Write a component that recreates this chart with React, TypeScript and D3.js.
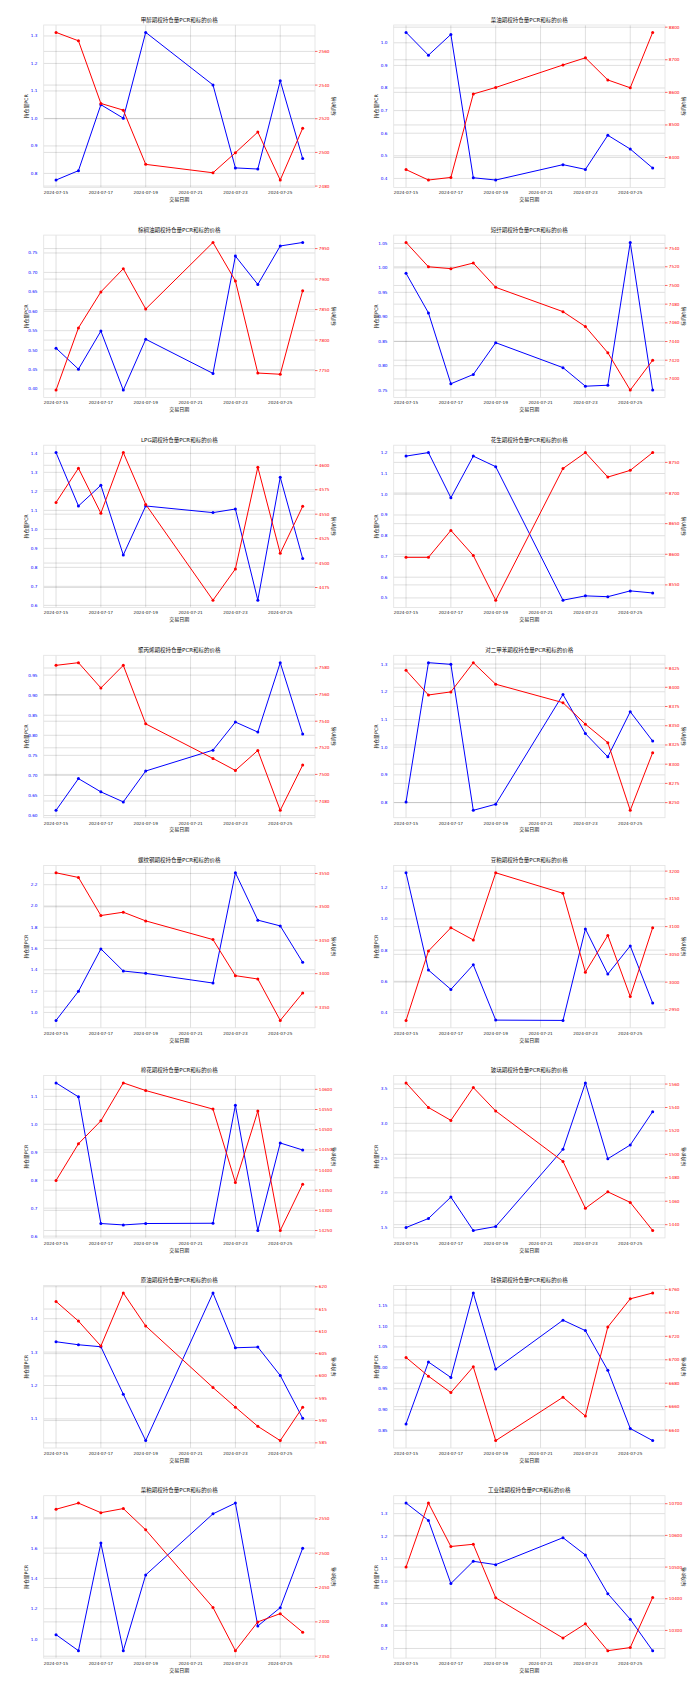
import React from "react";
import * as d3 from "d3";

// ---------- data ----------
const dates = ["2024-07-15", "2024-07-16", "2024-07-17", "2024-07-18", "2024-07-19", "2024-07-22", "2024-07-23", "2024-07-24", "2024-07-25", "2024-07-26"];
const xTickLabels = ["2024-07-15", "2024-07-17", "2024-07-19", "2024-07-21", "2024-07-23", "2024-07-25"];

const names = ["甲醇", "菜油", "棕榈油", "短纤", "LPG", "花生", "聚丙烯", "对二甲苯", "螺纹钢", "豆粕", "棉花", "玻璃", "原油", "硅铁", "菜粕", "工业硅"];

const pcrMA = [0.776, 0.81, 1.05, 1.001, 1.313, 1.122, 0.82, 0.816, 1.137, 0.854];
const priceMA = [2571.3, 2566.3, 2529.1, 2525.1, 2492.9, 2487.9, 2499.8, 2512.1, 2483.6, 2514.3];
const pcrOI = [1.046, 0.945, 1.037, 0.403, 0.393, 0.461, 0.44, 0.591, 0.53, 0.446];
const priceOI = [8363, 8331, 8339, 8595, 8615, 8684, 8706, 8638, 8614, 8784];
const pcrP = [0.505, 0.451, 0.549, 0.397, 0.528, 0.44, 0.742, 0.669, 0.768, 0.777];
const priceP = [7718, 7820, 7879, 7917, 7851, 7960, 7897, 7746, 7744, 7881];
const pcrPF = [0.989, 0.908, 0.763, 0.782, 0.847, 0.796, 0.758, 0.76, 1.052, 0.75];
const pricePF = [7546, 7520, 7518, 7524, 7498, 7472, 7456, 7428, 7388, 7420];
const pcrPG = [1.404, 1.123, 1.232, 0.865, 1.123, 1.088, 1.107, 0.627, 1.274, 0.847];
const pricePG = [4562, 4597, 4551, 4613, 4560, 4462, 4494, 4598, 4510, 4558];
const pcrPK = [1.184, 1.201, 0.983, 1.184, 1.133, 0.489, 0.51, 0.506, 0.534, 0.524];
const pricePK = [8595, 8595, 8639, 8598, 8525, 8740, 8766, 8726, 8737, 8766];
const pcrPP = [0.613, 0.692, 0.659, 0.634, 0.711, 0.763, 0.833, 0.808, 0.981, 0.803];
const pricePP = [7582, 7584, 7565, 7582, 7538, 7512, 7503, 7518, 7473, 7507];
const pcrPX = [0.802, 1.305, 1.299, 0.772, 0.794, 1.19, 1.049, 0.965, 1.128, 1.022];
const pricePX = [8422, 8390, 8394, 8432, 8404, 8380, 8352, 8328, 8240, 8315];
const pcrRB = [0.925, 1.198, 1.597, 1.389, 1.367, 1.276, 2.312, 1.867, 1.813, 1.471];
const priceRB = [3551, 3544, 3487, 3492, 3479, 3451, 3397, 3392, 3330, 3371];
const pcrM = [1.296, 0.672, 0.548, 0.706, 0.351, 0.349, 0.936, 0.646, 0.827, 0.46];
const priceM = [2931, 3056, 3098, 3076, 3197, 3160, 3018, 3084, 2974, 3098];
const pcrCF = [1.148, 1.098, 0.645, 0.64, 0.645, 0.646, 1.068, 0.62, 0.933, 0.908];
const priceCF = [14374, 14465, 14522, 14616, 14597, 14551, 14369, 14546, 14250, 14365];
const pcrFG = [1.5, 1.63, 1.938, 1.457, 1.514, 2.625, 3.582, 2.49, 2.688, 3.168];
const priceFG = [1561, 1540, 1529, 1557, 1537, 1494, 1454, 1468, 1459, 1435];
const pcrSC = [1.331, 1.322, 1.316, 1.174, 1.035, 1.477, 1.313, 1.315, 1.23, 1.102];
const priceSC = [616.7, 612.3, 606.7, 618.6, 611.2, 597.4, 593.0, 588.7, 585.5, 593.0];
const pcrSF = [0.866, 1.014, 0.977, 1.179, 0.997, 1.114, 1.089, 0.994, 0.855, 0.826];
const priceSF = [6702, 6686, 6672, 6694, 6631, 6668, 6652, 6728, 6752, 6757];
const pcrRM = [1.029, 0.923, 1.633, 0.923, 1.423, 1.826, 1.897, 1.086, 1.207, 1.599];
const priceRM = [2564, 2573, 2559, 2565, 2534, 2421, 2358, 2400, 2412, 2385];
const pcrSI = [1.347, 1.27, 0.989, 1.088, 1.073, 1.193, 1.116, 0.944, 0.83, 0.69];
const priceSI = [10500, 10702, 10565, 10572, 10403, 10276, 10321, 10236, 10246, 10404];

// tick labels for each axis
const pcrTicks = [
  [0.8, 0.9, 1.0, 1.1, 1.2, 1.3],
  [0.4, 0.5, 0.6, 0.7, 0.8, 0.9, 1.0],
  [0.4, 0.45, 0.5, 0.55, 0.6, 0.65, 0.7, 0.75],
  [0.75, 0.8, 0.85, 0.9, 0.95, 1.0, 1.05],
  [0.6, 0.7, 0.8, 0.9, 1.0, 1.1, 1.2, 1.3, 1.4],
  [0.5, 0.6, 0.7, 0.8, 0.9, 1.0, 1.1, 1.2],
  [0.6, 0.65, 0.7, 0.75, 0.8, 0.85, 0.9, 0.95],
  [0.8, 0.9, 1.0, 1.1, 1.2, 1.3],
  [1.0, 1.2, 1.4, 1.6, 1.8, 2.0, 2.2],
  [0.4, 0.6, 0.8, 1.0, 1.2],
  [0.6, 0.7, 0.8, 0.9, 1.0, 1.1],
  [1.5, 2.0, 2.5, 3.0, 3.5],
  [1.1, 1.2, 1.3, 1.4],
  [0.85, 0.9, 0.95, 1.0, 1.05, 1.1, 1.15],
  [1.0, 1.2, 1.4, 1.6, 1.8],
  [0.7, 0.8, 0.9, 1.0, 1.1, 1.2, 1.3],
];
const priceTicks = [
  [2480, 2500, 2520, 2540, 2560],
  [8400, 8500, 8600, 8700, 8800],
  [7750, 7800, 7850, 7900, 7950],
  [7400, 7420, 7440, 7460, 7480, 7500, 7520, 7540],
  [4475, 4500, 4525, 4550, 4575, 4600],
  [8550, 8600, 8650, 8700, 8750],
  [7480, 7500, 7520, 7540, 7560, 7580],
  [8250, 8275, 8300, 8325, 8350, 8375, 8400, 8425],
  [3350, 3400, 3450, 3500, 3550],
  [2950, 3000, 3050, 3100, 3150, 3200],
  [14250, 14300, 14350, 14400, 14450, 14500, 14550, 14600],
  [1440, 1460, 1480, 1500, 1520, 1540, 1560],
  [585, 590, 595, 600, 605, 610, 615, 620],
  [6640, 6660, 6680, 6700, 6720, 6740, 6760],
  [2350, 2400, 2450, 2500, 2550],
  [10300, 10400, 10500, 10600, 10700],
];

const pcrSeries = [pcrMA, pcrOI, pcrP, pcrPF, pcrPG, pcrPK, pcrPP, pcrPX, pcrRB, pcrM, pcrCF, pcrFG, pcrSC, pcrSF, pcrRM, pcrSI];
const priceSeries = [priceMA, priceOI, priceP, pricePF, pricePG, pricePK, pricePP, pricePX, priceRB, priceM, priceCF, priceFG, priceSC, priceSF, priceRM, priceSI];

// ---------- layout ----------
const WIDTH = 700;
const HEIGHT = 1681;
const PW = 350;
const PH = 210.1;
const L = 43.7, R = 315, T = 25, B = 187.4;
const FONT = '"DejaVu Sans", "Noto Sans CJK SC", sans-serif';
const BLUE = "#0000ff";
const RED = "#ff0000";
const GRID = "rgba(0,0,0,0.16)";

const parse = d3.utcParse("%Y-%m-%d");
const ds = dates.map((d) => parse(d) as Date);

function padDomain(vals: number[]): [number, number] {
  const [lo, hi] = d3.extent(vals) as [number, number];
  const r = hi - lo;
  return [lo - 0.05 * r, hi + 0.05 * r];
}

function fmt(ticks: number[]) {
  const step = Math.abs(ticks[1] - ticks[0]);
  const dec = step < 0.1 - 1e-9 ? 2 : step < 1 ? 1 : 0;
  return (v: number) => v.toFixed(dec);
}

function Panel({ idx }: { idx: number }) {
  const col = idx % 2;
  const row = Math.floor(idx / 2);
  const ox = col * PW;
  const oy = row * PH;
  const pcr = pcrSeries[idx];
  const price = priceSeries[idx];

  const t0 = ds[0].getTime();
  const t1 = ds[ds.length - 1].getTime();
  const pad = (t1 - t0) * 0.05;
  const x = d3.scaleUtc().domain([new Date(t0 - pad), new Date(t1 + pad)]).range([L, R]);
  const yL = d3.scaleLinear().domain(padDomain(pcr)).range([B, T]);
  const yR = d3.scaleLinear().domain(padDomain(price)).range([B, T]);

  const lineL = d3.line<number>().x((_, i) => x(ds[i])).y((d) => yL(d));
  const lineR = d3.line<number>().x((_, i) => x(ds[i])).y((d) => yR(d));

  const fL = fmt(pcrTicks[idx]);
  const fR = fmt(priceTicks[idx]);
  const cx = (L + R) / 2;
  const cy = (T + B) / 2;

  return (
    <g transform={`translate(${ox},${oy})`}>
      {/* vertical grid */}
      {xTickLabels.map((t) => {
        const xv = x(parse(t) as Date);
        return <line key={"vx" + t} x1={xv} x2={xv} y1={T} y2={B} stroke={GRID} strokeWidth={0.8} />;
      })}
      {/* left grid */}
      {pcrTicks[idx].map((v) => (
        <line key={"gl" + v} x1={L} x2={R} y1={yL(v)} y2={yL(v)} stroke={GRID} strokeWidth={0.8} />
      ))}
      {/* right grid */}
      {priceTicks[idx].map((v) => (
        <line key={"gr" + v} x1={L} x2={R} y1={yR(v)} y2={yR(v)} stroke={GRID} strokeWidth={0.8} />
      ))}
      <rect x={L} y={T} width={R - L} height={B - T} fill="none" stroke="#e2e2e2" strokeWidth={0.8} />

      {/* blue PCR */}
      <path d={lineL(pcr) || ""} fill="none" stroke={BLUE} strokeWidth={1} />
      {pcr.map((v, i) => (
        <circle key={"cb" + i} cx={x(ds[i])} cy={yL(v)} r={1.5} fill={BLUE} />
      ))}
      {/* red price */}
      <path d={lineR(price) || ""} fill="none" stroke={RED} strokeWidth={1} />
      {price.map((v, i) => (
        <circle key={"cr" + i} cx={x(ds[i])} cy={yR(v)} r={1.5} fill={RED} />
      ))}

      {/* x tick labels */}
      {xTickLabels.map((t) => (
        <text key={"xt" + t} x={x(parse(t) as Date)} y={194.3} fontSize={4.2} textAnchor="middle" fill="#222" fontFamily={FONT}>
          {t}
        </text>
      ))}
      <text x={cx} y={201.2} fontSize={5} textAnchor="middle" fill="#111" fontFamily={FONT}>
        交易日期
      </text>

      {/* left ticks */}
      {pcrTicks[idx].map((v) => (
        <text key={"lt" + v} x={37.5} y={yL(v) + 1.5} fontSize={4.2} textAnchor="end" fill={BLUE} fontFamily={FONT}>
          {fL(v)}
        </text>
      ))}
      <text transform={`translate(27.5,${cy}) rotate(-90)`} fontSize={4.8} textAnchor="middle" fill="#111" fontFamily={FONT}>
        持仓量PCR
      </text>

      {/* right ticks */}
      {priceTicks[idx].map((v) => (
        <g key={"rt" + v}>
          <line x1={R} x2={R + 2.5} y1={yR(v)} y2={yR(v)} stroke={RED} strokeWidth={0.6} />
          <text x={R + 3.8} y={yR(v) + 1.5} fontSize={4.2} textAnchor="start" fill={RED} fontFamily={FONT}>
            {fR(v)}
          </text>
        </g>
      ))}
      <text transform={`translate(334.5,${cy}) rotate(-90)`} fontSize={4.8} textAnchor="middle" fill="#111" fontFamily={FONT}>
        标的价格
      </text>

      {/* title */}
      <text x={cx} y={21.5} fontSize={5.5} textAnchor="middle" fill="#111" fontFamily={FONT}>
        {names[idx] + "期权持仓量PCR和标的价格"}
      </text>
    </g>
  );
}

export default function App() {
  return (
    <div style={{ position: "absolute", left: 0, top: 0, width: WIDTH, height: HEIGHT, background: "#fff" }}>
      <svg width={WIDTH} height={HEIGHT} viewBox={`0 0 ${WIDTH} ${HEIGHT}`} style={{ display: "block" }}>
        <rect x={0} y={0} width={WIDTH} height={HEIGHT} fill="#fff" />
        {names.map((_, i) => (
          <Panel key={i} idx={i} />
        ))}
      </svg>
    </div>
  );
}
